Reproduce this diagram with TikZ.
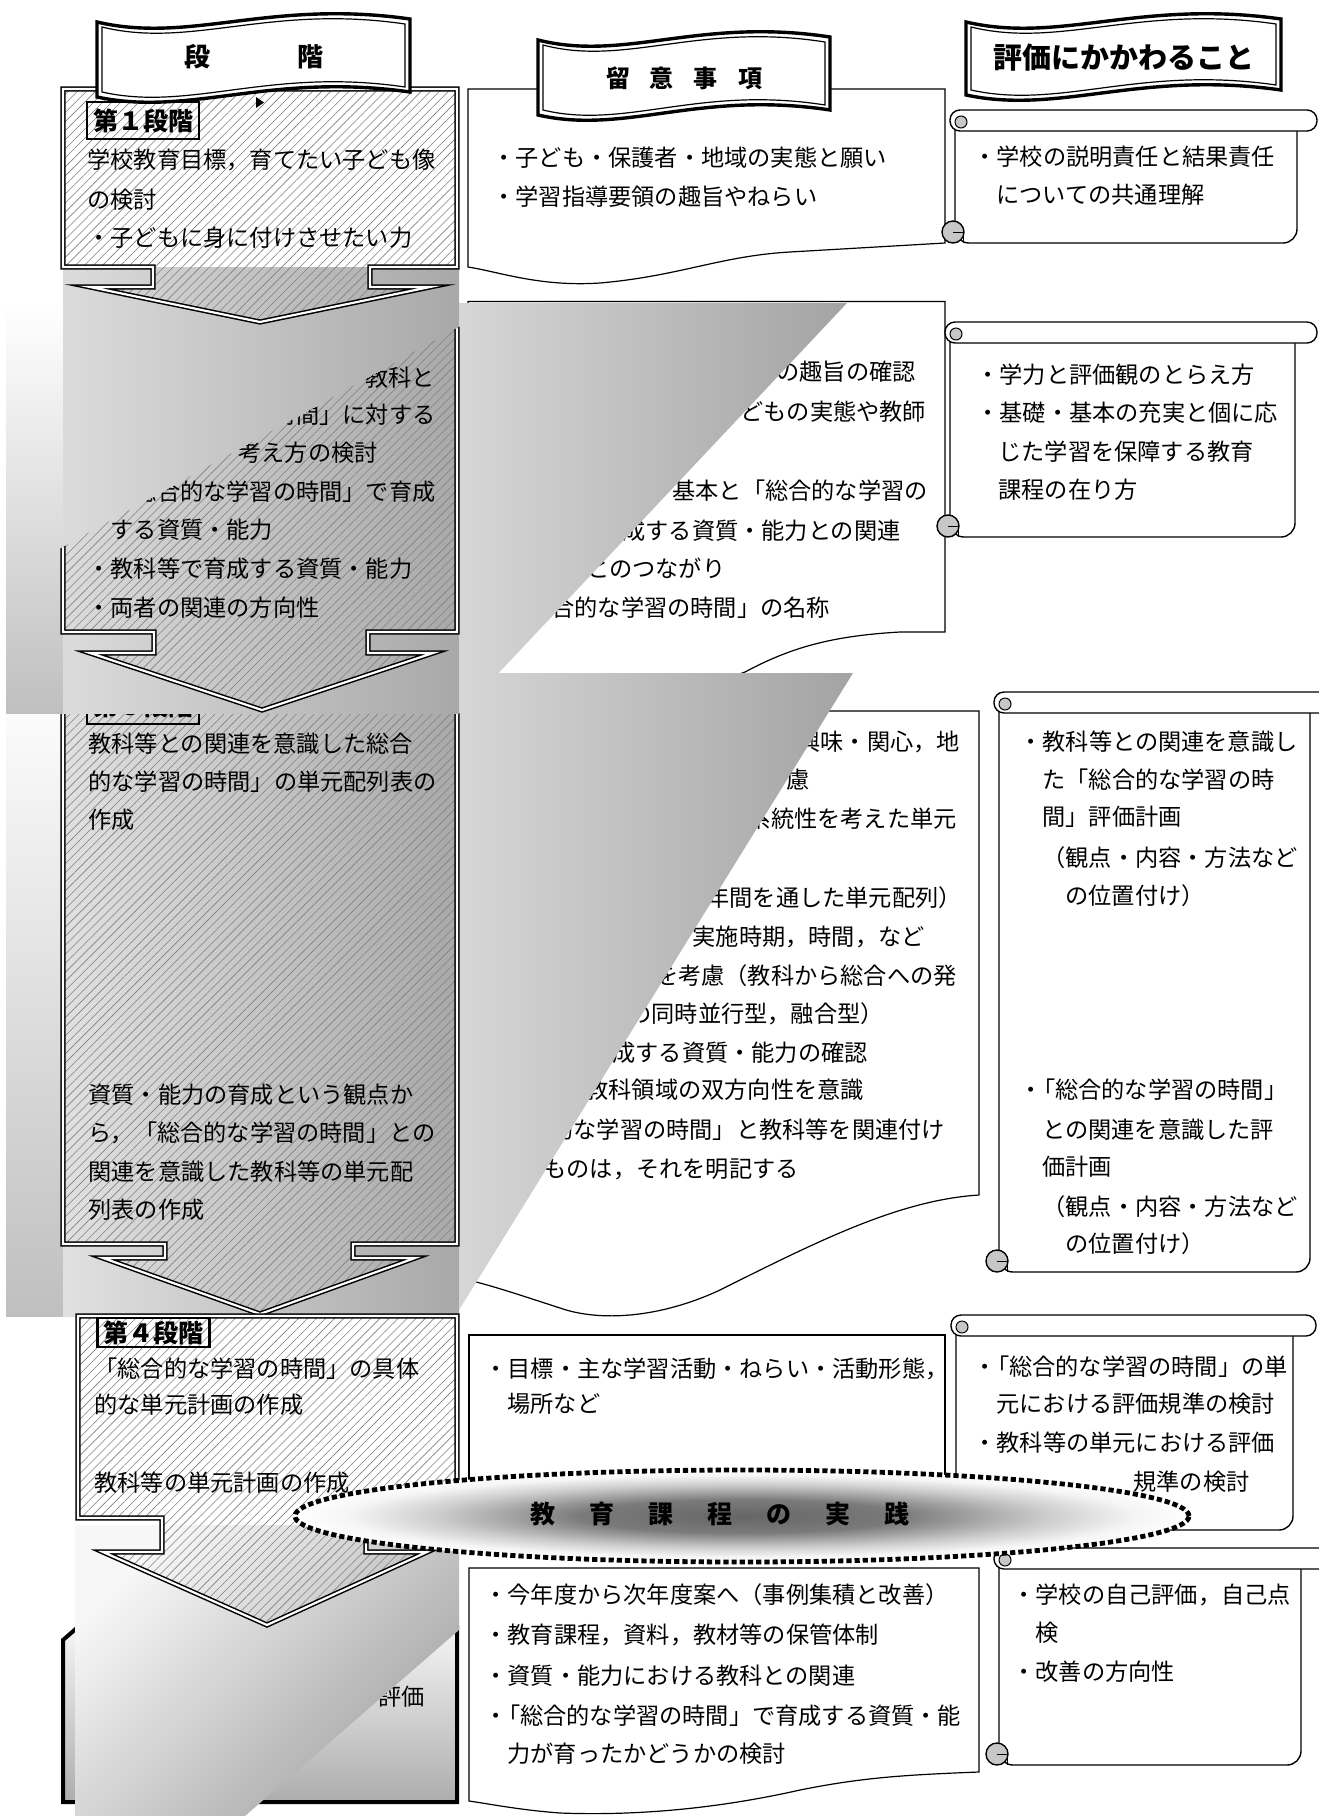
\documentclass[tikz,border=0pt]{standalone}
\usepackage{fontspec}
\setmainfont{Noto Sans CJK JP}
\usetikzlibrary{patterns.meta,shapes.geometric}
\pgfdeclareradialshading{ellsh}{\pgfpoint{0bp}{0bp}}{color(0bp)=(black!60); color(9bp)=(black!52); color(17bp)=(black!20); color(22bp)=(black!4); color(25bp)=(white); color(50bp)=(white)}
\newcommand\nk{\kern-0.45em}
\tikzset{
 t/.style={anchor=west, inner sep=0pt, font=\fontsize{11.6pt}{14pt}\selectfont, text height=10.2pt, text depth=1.4pt},
 te/.style={t, anchor=east},
 thinbox/.style={draw=black, line width=0.6pt, fill=white},
 hatch/.style={pattern={Lines[angle=45,distance=3.2pt,line width=0.3pt]}, pattern color=black!50},
 stageborder/.style={draw=black, line width=0.75pt, double=white, double distance=1.1pt},
 lbl/.style={draw=black, line width=1.1pt, inner sep=0pt, font=\bfseries\fontsize{12.5pt}{14pt}\selectfont, minimum width=56pt},
 hdr/.style={inner sep=0pt, font=\bfseries\fontsize{13pt}{15pt}\selectfont},
 scrollline/.style={draw=black, line width=0.7pt},
}
\newcommand\wavebanner[4]{%
 \pgfmathsetmacro\bw{#3-#1}
 \draw[line width=1.7pt, fill=white] (#1,{#2+8}) .. controls ({#1+0.3*\bw},{#2+30}) and ({#1+0.55*\bw},{#2-15}) .. (#3,{#2+5}) -- (#3,#4) .. controls ({#1+0.55*\bw},{#4-20}) and ({#1+0.3*\bw},{#4+25}) .. (#1,{#4+5}) -- cycle;
 \draw[line width=0.6pt] ({#1+5},{#2+13}) .. controls ({#1+0.3*\bw},{#2+35}) and ({#1+0.55*\bw},{#2-10}) .. ({#3-5},{#2+10}) -- ({#3-5},{#4-5}) .. controls ({#1+0.55*\bw},{#4-25}) and ({#1+0.3*\bw},{#4+20}) .. ({#1+5},{#4}) -- cycle;
}
\newcommand\scrollbox[5]{%
 \draw[scrollline, fill=white, rounded corners=7pt] (#1,{#4+10}) -- (#1,#5) -- (#2,#5) -- (#2,{#4+18});
 \draw[scrollline, fill=white, rounded corners=5pt] ({#1-5},#4) rectangle (#3,{#4+21});
 \draw[line width=0.5pt, fill=black!22] ({#1+6},{#4+12}) circle (6);
 \draw[scrollline, fill=black!22] ({#1-2},{#5-11}) circle (11);
 \draw[line width=0.5pt] ({#1-2},{#5-11}) -- ({#1+8},{#5-11}) -- ({#1+8},#5);
}
\begin{document}
\begin{tikzpicture}[x=0.5pt,y=-0.5pt]
\fill[white] (0,0) rectangle (1318,1816);
\useasboundingbox (0,0) rectangle (1318,1816);

% ---------- column 2 boxes ----------
\draw[thinbox] (468,89) -- (945,89) -- (945,243) -- (790,252) .. controls (720,256) and (680,276) .. (600,283) .. controls (540,287) and (500,272) .. (468,267) -- cycle;
\draw[thinbox] (468,301.5) -- (945,301.5) -- (945,632) -- (900,632) .. controls (830,636) and (790,648) .. (745,672) .. controls (700,690) and (560,700) .. (468,700) -- cycle;
\draw[thinbox] (468,711) -- (979,711) -- (979,1195) .. controls (900,1200) and (820,1240) .. (720,1290) .. controls (660,1318) and (600,1322) .. (560,1308) .. controls (520,1295) and (490,1285) .. (468,1280) -- cycle;
\draw[thinbox] (469,1335) rectangle (945,1500);
\draw[thinbox] (469,1568) -- (979,1568) -- (979,1772) .. controls (900,1775) and (860,1778) .. (800,1790) .. controls (720,1808) and (640,1816) .. (560,1813) .. controls (520,1810) and (490,1804) .. (469,1801) -- cycle;

\node[t] (a1) at (492,158) {・子ども・保護者・地域の実態と願い};
\node[t] (a2) at (492,197) {・学習指導要領の趣旨やねらい};

\node[t] (b1) at (776,372) {の趣旨の確認};
\node[t] (b2) at (740,412) {どもの実態や教師};
\node[t] (b3) at (672,491) {基本と「総合的な学習の};
\node[t] (b4) at (622,531) {成する資質・能力との関連};
\node[t] (b5) at (586,569) {とのつながり};
\node[t] (b6) at (551,608) {合的な学習の時間」の名称};

\node[t] (c1) at (797,742) {興味・関心，地};
\node[t] (c2) at (786,780) {慮};
\node[te] (c3) at (957,819) {系統性を考えた単元};
\node[te] (c4) at (962,898) {（年間を通した単元配列）};
\node[te] (c5) at (925,937) {実施時期，時間，など};
\node[te] (c6) at (957,976) {を考慮（教科から総合への発};
\node[t] (c7) at (628,1014) {の同時並行型，融合型）};
\node[t] (c8) at (612,1053) {成する資質・能力の確認};
\node[t] (c9) at (585,1090) {教科領域の双方向性を意識};
\node[t] (c10) at (550,1130) {的な学習の時間」と教科等を関連付け};
\node[t] (c11) at (543,1169) {ものは，それを明記する};

\node[t] (d1) at (484,1369) {・目標・主な学習活動・ねらい・活動形態，};
\node[t] (d2) at (507,1404) {場所など};

\node[t] (e1) at (484,1595) {・今年度から次年度案へ（事例集積と改善）};
\node[t] (e2) at (484,1635) {・教育課程，資料，教材等の保管体制};
\node[t] (e3) at (484,1676) {・資質・能力における教科との関連};
\node[t] (e4) at (484,1716) {・\nk「総合的な学習の時間」で育成する資質・能};
\node[t] (e5) at (507,1754) {力が育ったかどうかの検討};

% ---------- column 3 scrolls ----------
\scrollbox{955}{1297}{1317}{110}{243}
\scrollbox{950}{1295}{1317}{322}{537}
\scrollbox{999}{1310}{1345}{692}{1272}
\scrollbox{956}{1293}{1316}{1315}{1530}
\scrollbox{999}{1301}{1345}{1548}{1765}

\node[t] (f1) at (973,157) {・学校の説明責任と結果責任};
\node[t] (f2) at (996,195) {についての共通理解};
\node[t] (g1) at (976,375) {・学力と評価観のとらえ方};
\node[t] (g2) at (976,413) {・基礎・基本の充実と個に応};
\node[t] (g3) at (998,452) {じた学習を保障する教育};
\node[t] (g4) at (998,490) {課程の在り方};
\node[t] (h1) at (1019,742) {・教科等との関連を意識し};
\node[t] (h2) at (1042,780) {た「総合的な学習の時};
\node[t] (h3) at (1042,817) {間」評価計画};
\node[t] (h4) at (1042,858) {（観点・内容・方法など};
\node[t] (h5) at (1065,896) {の位置付け）};
\node[t] (h6) at (1019,1090) {・\nk「総合的な学習の時間」};
\node[t] (h7) at (1042,1130) {との関連を意識した評};
\node[t] (h8) at (1042,1167) {価計画};
\node[t] (h9) at (1042,1207) {（観点・内容・方法など};
\node[t] (h10) at (1065,1244) {の位置付け）};
\node[t] (k1) at (973,1367) {・\nk「総合的な学習の時間」の単};
\node[t] (k2) at (996,1404) {元における評価規準の検討};
\node[t] (k3) at (973,1443) {・教科等の単元における評価};
\node[t] (k4) at (1133,1482) {規準の検討};
\node[t] (m1) at (1012,1595) {・学校の自己評価，自己点};
\node[t] (m2) at (1035,1633) {検};
\node[t] (m3) at (1012,1672) {・改善の方向性};

% ---------- overlay B ----------
\shade[top color=white, bottom color=black!25] (6,673) rectangle (63,1316);
\shade[left color=black!12, right color=black!34] (63,673) rectangle (459,1316);
\shade[left color=black!16, right color=black!36] (459,673) -- (853,673) -- (459,1310) -- cycle;

% ---------- stage 3 ----------
\path[save path=\pthree] (63,690) -- (457,690) -- (457,1244) -- (353,1244) -- (353,1258) -- (415,1258) -- (260,1314) -- (103,1258) -- (165,1258) -- (165,1244) -- (63,1244) -- cycle;
\shade[use path=\pthree, top color=black!3, bottom color=black!30, shading angle=50];
\path[use path=\pthree, hatch];
\path[use path=\pthree, stageborder];
\node[lbl, minimum height=18.5pt] (lab3) at (143,705.5) {第３段階};
\node[t] (s3a) at (88,744) {教科等との関連を意識した総合};
\node[t] (s3b) at (88,782) {的な学習の時間」の単元配列表の};
\node[t] (s3c) at (88,820) {作成};
\node[t] (s3d) at (88,1095) {資質・能力の育成という観点か};
\node[t] (s3e) at (88,1133) {ら，「総合的な学習の時間」との};
\node[t] (s3f) at (88,1172) {関連を意識した教科等の単元配};
\node[t] (s3g) at (88,1210) {列表の作成};

% ---------- overlay A ----------
\shade[top color=white, bottom color=black!25] (6,303) rectangle (63,713);
\shade[left color=black!14, right color=black!34] (63,267) rectangle (459,713);
\shade[left color=black!16, right color=black!36] (459,303) -- (847,303) -- (461,713) -- (459,713) -- cycle;

% ---------- stage 2 (partly hidden) ----------
\begin{scope}
\clip (40,559.8) -- (480,315.3) -- (480,730) -- (40,730) -- cycle;
\path[save path=\ptwo] (63,267) -- (457,267) -- (457,632) -- (368,632) -- (368,653) -- (433,653) -- (262,710) -- (90,653) -- (154,653) -- (154,632) -- (63,632) -- cycle;
\shade[use path=\ptwo, left color=black!5, right color=black!15];
\path[use path=\ptwo, hatch];
\path[use path=\ptwo, stageborder];
\node[te] (s2a) at (435,378) {教科と};
\node[t] (s2b) at (87,415) {「総合的な学習の時間」に対する};
\node[te] (s2c) at (378,453) {考え方の検討};
\node[t] (s2d) at (87,492) {・「総合的な学習の時間」で育成};
\node[t] (s2e) at (87,530) {　する資質・能力};
\node[t] (s2f) at (87,569) {・教科等で育成する資質・能力};
\node[t] (s2g) at (87,608) {・両者の関連の方向性};
\end{scope}

% ---------- stage 1 ----------
\path[save path=\pone] (63,89) -- (457,89) -- (457,267) -- (370,267) -- (370,287) -- (430,287) -- (260,322) -- (90,287) -- (153,287) -- (153,267) -- (63,267) -- cycle;
\shade[use path=\pone, left color=black!7, right color=black!17];
\path[use path=\pone, hatch];
\path[use path=\pone, stageborder];
\node[lbl, minimum height=18.5pt] (lab1) at (143,120.5) {第１段階};
\node[t] (s1a) at (87,160) {学校教育目標，育てたい子ども像};
\node[t] (s1b) at (87,200) {の検討};
\node[t] (s1c) at (87,238) {・子どもに身に付けさせたい力};

% ---------- stage 5 ----------
\draw[line width=2pt, top color=black!4, bottom color=black!32] (63,1640) -- (78,1627) -- (457,1627) -- (457,1802) -- (63,1802) -- cycle;
\node[te] (s5a) at (425,1697) {評価};

% ---------- overlay C ----------
\shade[top color=black!3, bottom color=black!36, shading angle=45] (75,1525) -- (459,1525) -- (459,1630) -- (245,1816) -- (75,1816) -- cycle;

% ---------- stage 4 ----------
\path[save path=\pfour] (78,1316) -- (457,1316) -- (457,1518) -- (366,1518) -- (366,1552) -- (427,1552) -- (267,1625) -- (103,1552) -- (162,1552) -- (162,1518) -- (78,1518) -- cycle;
\shade[use path=\pfour, left color=black!6, right color=black!20];
\path[use path=\pfour, hatch];
\path[use path=\pfour, stageborder];
\node[lbl, minimum height=14.5pt] (lab4) at (153.5,1332.5) {第４段階};
\node[t] (s4a) at (94,1369) {「総合的な学習の時間」の具体};
\node[t] (s4b) at (94,1405) {的な単元計画の作成};
\node[t] (s4c) at (94,1483) {教科等の単元計画の作成};

% ---------- ellipse ----------
\node[ellipse, shading=ellsh, draw=black, line width=2.4pt, dash pattern=on 2.6pt off 1.5pt, minimum width=447pt, minimum height=46pt, inner sep=0pt] (ell) at (742,1516) {};
\node[hdr, font=\bfseries\fontsize{12.5pt}{14pt}\selectfont] (ellt) at (720,1514) {教\hspace{17pt}育\hspace{17pt}課\hspace{17pt}程\hspace{17pt}の\hspace{17pt}実\hspace{17pt}践};

% ---------- banners ----------
\wavebanner{97}{14}{410}{92}
\node[hdr] (hd1) at (197,57) {段};
\node[hdr] (hd2) at (310,57) {階};
\wavebanner{538}{32}{830}{110}
\node[hdr, font=\bfseries\fontsize{12pt}{14pt}\selectfont] (hd3) at (684,78) {留\hspace{10pt}意\hspace{10pt}事\hspace{10pt}項};
\wavebanner{966}{14}{1281}{90}
\node[hdr, font=\bfseries\fontsize{14.5pt}{16pt}\selectfont] (hd4) at (1124,58) {評価にかかわること};
\fill (256,97) -- (264,102.5) -- (256,108) -- cycle;
\end{tikzpicture}
\end{document}
